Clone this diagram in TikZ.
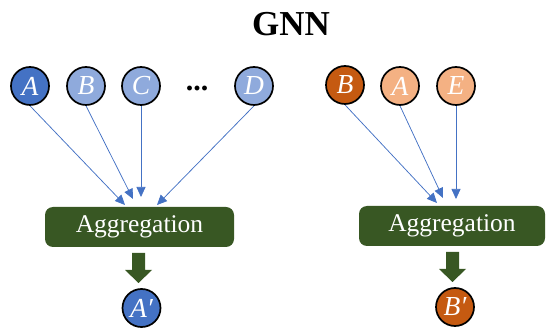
\documentclass[tikz,border=0pt]{standalone}
\usepackage{fontspec}
\setmainfont{Liberation Serif}
\usetikzlibrary{arrows.meta}
\definecolor{blueDark}{HTML}{4472C4}
\definecolor{blueLight}{HTML}{8FAADC}
\definecolor{orangeDark}{HTML}{C55A11}
\definecolor{orangeLight}{HTML}{F4B183}
\definecolor{aggGreen}{HTML}{385723}
\tikzset{
  vertex/.style={circle, draw=black, line width=1.7pt, minimum size=38pt, inner sep=0pt,
    text=white, font=\fontsize{27.5}{27.5}\selectfont\itshape},
  aggbox/.style={rectangle, rounded corners=8pt, fill=aggGreen, text=white,
    minimum width=189pt, minimum height=40pt, inner sep=0pt,
    font=\fontsize{25.5}{25.5}\selectfont},
  msg/.style={draw=blueDark, line width=0.75pt, -{Triangle[length=10pt,width=9pt]}},
  blockarrow/.style={fill=aggGreen},
}
\begin{document}
\begin{tikzpicture}[x=1pt,y=-1pt]
\useasboundingbox (0,0) rectangle (546,328);

\node[font=\fontsize{35}{35}\selectfont\bfseries] (title) at (291,24) {GNN};

% left neighbourhood
\node[vertex, fill=blueDark]  (lA) at (30,86)  {A};
\node[vertex, fill=blueLight] (lB) at (86,86)  {B};
\node[vertex, fill=blueLight] (lC) at (141,86) {C};
\node[font=\fontsize{30}{30}\selectfont\bfseries] (dots) at (197,88) {...};
\node[vertex, fill=blueLight] (lD) at (254,86) {D};

\node[aggbox] (aggL) at (139.5,227) {Aggregation};
\coordinate (tA) at (125,205);
\coordinate (tB) at (133,199);
\coordinate (tC) at (141,197);
\coordinate (tD) at (157,205);
\draw[msg] (lA.south) -- (tA);
\draw[msg] (lB.south) -- (tB);
\draw[msg] (lC.south) -- (tC);
\draw[msg] (lD.south) -- (tD);

\node[vertex, fill=blueDark] (outA) at (141.5,308) {A′};
\fill[blockarrow] (132,253) -- (145,253) -- (145,270) -- (152,270) -- (138.5,283)
  -- (125,270) -- (132,270) -- cycle;

% right neighbourhood
\node[vertex, fill=orangeDark]  (rB) at (345,85) {B};
\node[vertex, fill=orangeLight] (rA) at (400,86) {A};
\node[vertex, fill=orangeLight] (rE) at (456,86) {E};

\node[aggbox, minimum width=186pt] (aggR) at (452,226) {Aggregation};
\coordinate (sB) at (437,203);
\coordinate (sA) at (443,198);
\coordinate (sE) at (456,199);
\draw[msg] (rB.south) -- (sB);
\draw[msg] (rA.south) -- (sA);
\draw[msg] (rE.south) -- (sE);

\node[vertex, fill=orangeDark] (outB) at (455,307) {B′};
\fill[blockarrow] (446,252) -- (459,252) -- (459,269) -- (466,269) -- (452.5,282)
  -- (439,269) -- (446,269) -- cycle;
\end{tikzpicture}
\end{document}
